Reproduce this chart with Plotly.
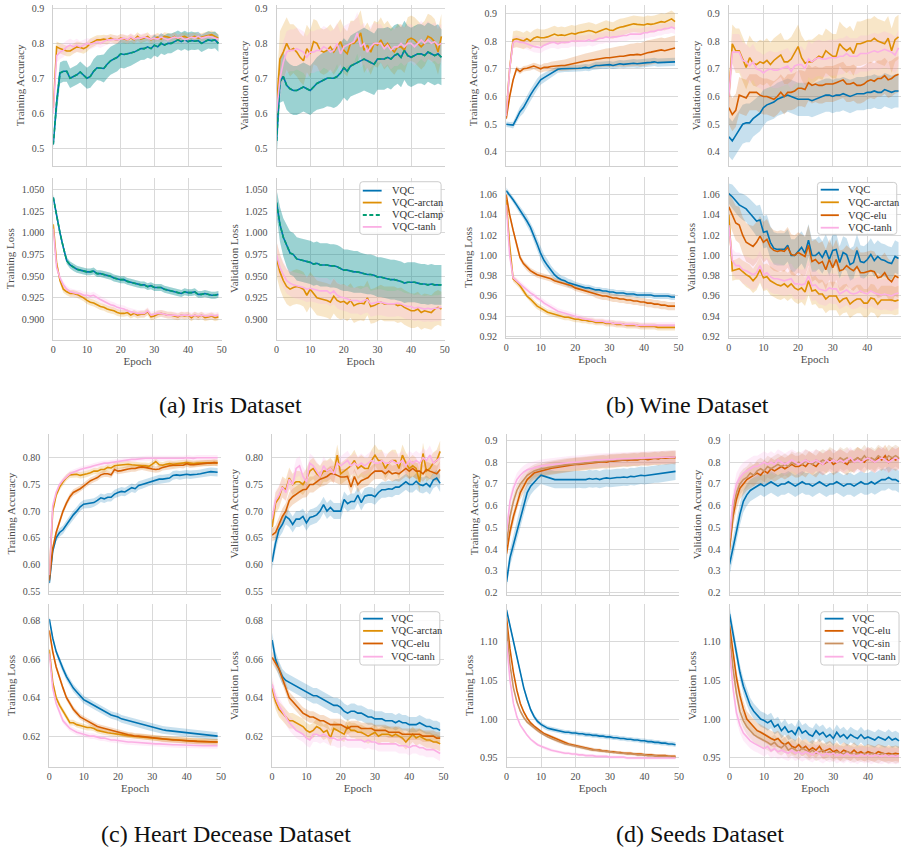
import plotly.graph_objects as go

EPOCH = list(range(50))

# ---------------- Iris ----------------
iris_tacc_vqc = [
    0.51, 0.63, 0.715, 0.72, 0.72, 0.70, 0.705, 0.71, 0.718, 0.71,
    0.70, 0.705, 0.72, 0.73, 0.73, 0.728, 0.74, 0.75, 0.755, 0.76,
    0.77, 0.768, 0.77, 0.772, 0.775, 0.78, 0.785, 0.785, 0.79, 0.785,
    0.795, 0.79, 0.80, 0.795, 0.80, 0.80, 0.805, 0.81, 0.805, 0.81,
    0.805, 0.808, 0.806, 0.808, 0.80, 0.805, 0.81, 0.808, 0.81, 0.80]
iris_tacc_vqc_sd = [
    0.01, 0.03, 0.03, 0.03, 0.03, 0.028, 0.028, 0.028, 0.03, 0.03,
    0.03, 0.032, 0.035, 0.035, 0.037, 0.04, 0.04, 0.04, 0.04, 0.04,
    0.04, 0.04, 0.038, 0.036, 0.035, 0.034, 0.033, 0.032, 0.031, 0.03,
    0.03, 0.03, 0.029, 0.028, 0.028, 0.028, 0.027, 0.027, 0.026, 0.026,
    0.026, 0.026, 0.025, 0.025, 0.025, 0.025, 0.025, 0.024, 0.024, 0.024]
iris_tacc_arctan = [
    0.615, 0.79, 0.785, 0.782, 0.778, 0.778, 0.785, 0.79, 0.788, 0.785,
    0.79, 0.80, 0.805, 0.81, 0.81, 0.812, 0.81, 0.815, 0.812, 0.81,
    0.815, 0.812, 0.81, 0.815, 0.81, 0.82, 0.812, 0.815, 0.82, 0.81,
    0.815, 0.818, 0.812, 0.82, 0.818, 0.815, 0.82, 0.812, 0.818, 0.82,
    0.815, 0.818, 0.82, 0.815, 0.818, 0.82, 0.822, 0.825, 0.82, 0.815]
iris_tacc_arctan_sd = [
    0.012, 0.015, 0.015, 0.015, 0.015, 0.015, 0.015, 0.015, 0.015, 0.015,
    0.014, 0.014, 0.014, 0.013, 0.013, 0.013, 0.013, 0.012, 0.012, 0.012,
    0.012, 0.012, 0.012, 0.012, 0.012, 0.012, 0.012, 0.012, 0.012, 0.012,
    0.012, 0.012, 0.012, 0.012, 0.012, 0.012, 0.012, 0.012, 0.012, 0.012,
    0.012, 0.012, 0.012, 0.012, 0.012, 0.012, 0.012, 0.012, 0.012, 0.012]
iris_tacc_tanh = [
    0.60, 0.765, 0.775, 0.78, 0.79, 0.795, 0.79, 0.795, 0.79, 0.795,
    0.80, 0.798, 0.80, 0.805, 0.80, 0.805, 0.81, 0.81, 0.812, 0.81,
    0.812, 0.815, 0.81, 0.818, 0.812, 0.815, 0.815, 0.818, 0.815, 0.812,
    0.815, 0.812, 0.818, 0.815, 0.81, 0.815, 0.818, 0.815, 0.818, 0.81,
    0.815, 0.818, 0.815, 0.82, 0.815, 0.818, 0.82, 0.818, 0.815, 0.812]
iris_tacc_tanh_sd = [
    0.012, 0.02, 0.02, 0.02, 0.018, 0.018, 0.018, 0.018, 0.016, 0.016,
    0.015, 0.015, 0.014, 0.014, 0.013, 0.013, 0.013, 0.012, 0.012, 0.012,
    0.012, 0.012, 0.012, 0.012, 0.012, 0.012, 0.012, 0.012, 0.012, 0.012,
    0.012, 0.012, 0.012, 0.012, 0.012, 0.012, 0.012, 0.012, 0.012, 0.012,
    0.012, 0.012, 0.012, 0.012, 0.012, 0.012, 0.012, 0.012, 0.012, 0.012]

iris_vacc_vqc = [
    0.52, 0.69, 0.705, 0.68, 0.67, 0.665, 0.665, 0.67, 0.675, 0.67,
    0.665, 0.675, 0.685, 0.69, 0.695, 0.70, 0.70, 0.70, 0.705, 0.715,
    0.73, 0.72, 0.735, 0.74, 0.745, 0.75, 0.755, 0.75, 0.745, 0.74,
    0.755, 0.755, 0.755, 0.76, 0.755, 0.765, 0.77, 0.76, 0.78, 0.765,
    0.76, 0.765, 0.77, 0.77, 0.765, 0.775, 0.77, 0.765, 0.77, 0.76]
iris_vacc_vqc_sd = [
    0.05, 0.06, 0.07, 0.07, 0.07, 0.07, 0.07, 0.07, 0.07, 0.07,
    0.07, 0.072, 0.075, 0.078, 0.08, 0.08, 0.082, 0.085, 0.085, 0.085,
    0.085, 0.085, 0.087, 0.088, 0.088, 0.09, 0.09, 0.09, 0.088, 0.088,
    0.088, 0.088, 0.088, 0.087, 0.087, 0.087, 0.086, 0.086, 0.085, 0.085,
    0.085, 0.085, 0.085, 0.085, 0.085, 0.085, 0.085, 0.085, 0.085, 0.08]
iris_vacc_arctan = [
    0.62, 0.755, 0.775, 0.80, 0.78, 0.785, 0.775, 0.76, 0.75, 0.785,
    0.77, 0.805, 0.80, 0.78, 0.775, 0.78, 0.79, 0.775, 0.79, 0.805,
    0.78, 0.77, 0.80, 0.80, 0.81, 0.83, 0.78, 0.795, 0.775, 0.80,
    0.795, 0.81, 0.79, 0.80, 0.785, 0.775, 0.79, 0.79, 0.78, 0.81,
    0.815, 0.81, 0.80, 0.79, 0.80, 0.82, 0.815, 0.805, 0.775, 0.82]
iris_vacc_arctan_sd = [
    0.05, 0.08, 0.08, 0.075, 0.075, 0.07, 0.07, 0.07, 0.07, 0.068,
    0.068, 0.065, 0.065, 0.065, 0.065, 0.065, 0.065, 0.065, 0.065, 0.065,
    0.065, 0.065, 0.065, 0.065, 0.065, 0.065, 0.065, 0.065, 0.065, 0.065,
    0.065, 0.065, 0.065, 0.065, 0.065, 0.065, 0.065, 0.065, 0.065, 0.065,
    0.065, 0.065, 0.065, 0.065, 0.065, 0.065, 0.065, 0.065, 0.065, 0.065]
iris_vacc_tanh = [
    0.60, 0.70, 0.745, 0.775, 0.78, 0.78, 0.785, 0.78, 0.775, 0.76,
    0.775, 0.775, 0.78, 0.78, 0.79, 0.785, 0.775, 0.78, 0.80, 0.77,
    0.79, 0.795, 0.80, 0.805, 0.83, 0.79, 0.80, 0.775, 0.79, 0.80,
    0.80, 0.80, 0.785, 0.795, 0.78, 0.79, 0.79, 0.80, 0.79, 0.80,
    0.80, 0.79, 0.80, 0.81, 0.80, 0.81, 0.80, 0.805, 0.795, 0.80]
iris_vacc_tanh_sd = [
    0.05, 0.06, 0.06, 0.06, 0.06, 0.06, 0.06, 0.06, 0.06, 0.06,
    0.06, 0.06, 0.06, 0.06, 0.06, 0.06, 0.06, 0.06, 0.06, 0.06,
    0.06, 0.06, 0.06, 0.06, 0.06, 0.06, 0.06, 0.06, 0.06, 0.06,
    0.055, 0.055, 0.055, 0.055, 0.055, 0.055, 0.055, 0.055, 0.055, 0.055,
    0.055, 0.055, 0.055, 0.055, 0.055, 0.055, 0.055, 0.055, 0.055, 0.055]

iris_tloss_vqc = [
    1.041, 1.02, 1.00, 0.983, 0.968, 0.963, 0.960, 0.958, 0.957, 0.956,
    0.955, 0.955, 0.956, 0.953, 0.953, 0.952, 0.951, 0.950, 0.948, 0.947,
    0.946, 0.946, 0.944, 0.943, 0.942, 0.941, 0.940, 0.940, 0.938, 0.939,
    0.937, 0.937, 0.937, 0.935, 0.934, 0.933, 0.932, 0.931, 0.930, 0.932,
    0.931, 0.931, 0.932, 0.929, 0.929, 0.930, 0.929, 0.928, 0.928, 0.929]
iris_tloss_vqc_sd = [
    0.004, 0.004, 0.004, 0.004, 0.004, 0.004, 0.004, 0.004, 0.004, 0.004,
    0.004, 0.004, 0.004, 0.004, 0.004, 0.004, 0.004, 0.004, 0.004, 0.004,
    0.004, 0.004, 0.004, 0.004, 0.004, 0.004, 0.004, 0.004, 0.004, 0.004,
    0.004, 0.004, 0.004, 0.004, 0.004, 0.004, 0.004, 0.004, 0.004, 0.004,
    0.004, 0.004, 0.004, 0.004, 0.004, 0.004, 0.004, 0.004, 0.004, 0.004]
iris_tloss_arctan = [
    1.01, 0.965, 0.945, 0.935, 0.932, 0.930, 0.930, 0.929, 0.927, 0.925,
    0.922, 0.920, 0.919, 0.917, 0.915, 0.914, 0.912, 0.911, 0.910, 0.908,
    0.907, 0.907, 0.908, 0.905, 0.907, 0.905, 0.906, 0.906, 0.909, 0.903,
    0.904, 0.906, 0.907, 0.906, 0.905, 0.905, 0.904, 0.903, 0.905, 0.904,
    0.905, 0.902, 0.905, 0.903, 0.905, 0.902, 0.903, 0.904, 0.902, 0.903]
iris_tloss_arctan_sd = [
    0.004, 0.004, 0.004, 0.004, 0.004, 0.004, 0.004, 0.004, 0.004, 0.004,
    0.004, 0.004, 0.004, 0.004, 0.004, 0.004, 0.004, 0.004, 0.004, 0.004,
    0.004, 0.004, 0.004, 0.004, 0.004, 0.004, 0.004, 0.004, 0.004, 0.004,
    0.004, 0.004, 0.004, 0.004, 0.004, 0.004, 0.004, 0.004, 0.004, 0.004,
    0.004, 0.004, 0.004, 0.004, 0.004, 0.004, 0.004, 0.004, 0.004, 0.004]
iris_tloss_tanh = [
    1.005, 0.96, 0.948, 0.94, 0.935, 0.932, 0.931, 0.930, 0.930, 0.928,
    0.928, 0.927, 0.928, 0.925, 0.923, 0.921, 0.919, 0.917, 0.916, 0.914,
    0.913, 0.912, 0.910, 0.909, 0.908, 0.907, 0.907, 0.907, 0.910, 0.905,
    0.906, 0.907, 0.907, 0.906, 0.905, 0.905, 0.905, 0.904, 0.905, 0.905,
    0.905, 0.904, 0.905, 0.904, 0.905, 0.904, 0.904, 0.905, 0.904, 0.905]
iris_tloss_tanh_sd = [
    0.004, 0.004, 0.004, 0.004, 0.004, 0.004, 0.004, 0.004, 0.004, 0.004,
    0.004, 0.004, 0.004, 0.004, 0.004, 0.004, 0.004, 0.004, 0.004, 0.004,
    0.004, 0.004, 0.004, 0.004, 0.004, 0.004, 0.004, 0.004, 0.004, 0.004,
    0.004, 0.004, 0.004, 0.004, 0.004, 0.004, 0.004, 0.004, 0.004, 0.004,
    0.004, 0.004, 0.004, 0.004, 0.004, 0.004, 0.004, 0.004, 0.004, 0.004]

iris_vloss_vqc = [
    1.035, 1.01, 0.995, 0.985, 0.977, 0.975, 0.970, 0.969, 0.968, 0.967,
    0.966, 0.964, 0.965, 0.963, 0.963, 0.963, 0.962, 0.962, 0.961, 0.959,
    0.957, 0.957, 0.956, 0.955, 0.955, 0.954, 0.953, 0.952, 0.952, 0.951,
    0.949, 0.949, 0.948, 0.947, 0.946, 0.946, 0.945, 0.944, 0.942, 0.943,
    0.943, 0.943, 0.942, 0.941, 0.941, 0.940, 0.941, 0.940, 0.940, 0.940]
iris_vloss_vqc_sd = [
    0.015, 0.02, 0.022, 0.024, 0.025, 0.025, 0.025, 0.025, 0.025, 0.025,
    0.025, 0.025, 0.025, 0.025, 0.025, 0.025, 0.025, 0.025, 0.025, 0.025,
    0.024, 0.024, 0.024, 0.024, 0.024, 0.023, 0.023, 0.023, 0.023, 0.023,
    0.023, 0.023, 0.023, 0.023, 0.023, 0.023, 0.023, 0.023, 0.023, 0.023,
    0.023, 0.023, 0.023, 0.023, 0.023, 0.023, 0.023, 0.023, 0.023, 0.023]
iris_vloss_arctan = [
    0.97, 0.955, 0.945, 0.938, 0.935, 0.937, 0.938, 0.937, 0.935, 0.928,
    0.935, 0.930, 0.925, 0.924, 0.923, 0.922, 0.920, 0.927, 0.922, 0.920,
    0.921, 0.918, 0.922, 0.916, 0.918, 0.919, 0.918, 0.925, 0.915, 0.916,
    0.918, 0.920, 0.918, 0.918, 0.918, 0.918, 0.916, 0.917, 0.914, 0.912,
    0.910, 0.910, 0.912, 0.908, 0.910, 0.909, 0.908, 0.912, 0.914, 0.912]
iris_vloss_arctan_sd = [
    0.02, 0.02, 0.02, 0.02, 0.02, 0.02, 0.02, 0.02, 0.02, 0.02,
    0.02, 0.02, 0.02, 0.02, 0.02, 0.02, 0.02, 0.02, 0.02, 0.02,
    0.02, 0.02, 0.02, 0.02, 0.02, 0.02, 0.02, 0.02, 0.02, 0.02,
    0.02, 0.02, 0.02, 0.02, 0.02, 0.02, 0.02, 0.02, 0.02, 0.02,
    0.02, 0.02, 0.02, 0.02, 0.02, 0.02, 0.02, 0.02, 0.02, 0.02]
iris_vloss_tanh = [
    0.975, 0.96, 0.952, 0.945, 0.942, 0.940, 0.939, 0.938, 0.937, 0.935,
    0.936, 0.935, 0.934, 0.933, 0.933, 0.933, 0.930, 0.933, 0.928, 0.926,
    0.925, 0.924, 0.922, 0.922, 0.922, 0.920, 0.922, 0.923, 0.918, 0.919,
    0.920, 0.920, 0.919, 0.918, 0.918, 0.918, 0.919, 0.918, 0.916, 0.915,
    0.915, 0.913, 0.914, 0.913, 0.912, 0.913, 0.912, 0.913, 0.913, 0.914]
iris_vloss_tanh_sd = [
    0.015, 0.015, 0.015, 0.015, 0.015, 0.015, 0.015, 0.015, 0.015, 0.015,
    0.015, 0.015, 0.015, 0.015, 0.015, 0.015, 0.015, 0.015, 0.015, 0.015,
    0.015, 0.015, 0.015, 0.015, 0.015, 0.015, 0.015, 0.015, 0.015, 0.015,
    0.015, 0.015, 0.015, 0.015, 0.015, 0.015, 0.015, 0.015, 0.015, 0.015,
    0.015, 0.015, 0.015, 0.015, 0.015, 0.015, 0.015, 0.015, 0.015, 0.015]

# ---------------- Wine ----------------
wine_tacc_vqc = [
    0.50, 0.498, 0.497, 0.52, 0.545, 0.56, 0.585, 0.605, 0.625, 0.645,
    0.66, 0.668, 0.675, 0.682, 0.69, 0.698, 0.70, 0.70, 0.70, 0.70,
    0.70, 0.702, 0.703, 0.705, 0.703, 0.708, 0.712, 0.712, 0.713, 0.712,
    0.715, 0.712, 0.715, 0.718, 0.716, 0.718, 0.72, 0.72, 0.718, 0.72,
    0.722, 0.722, 0.723, 0.725, 0.722, 0.723, 0.724, 0.725, 0.725, 0.725]
wine_tacc_vqc_sd = [
    0.01, 0.01, 0.012, 0.015, 0.018, 0.02, 0.02, 0.02, 0.02, 0.02,
    0.018, 0.016, 0.015, 0.014, 0.013, 0.012, 0.012, 0.012, 0.012, 0.012,
    0.012, 0.012, 0.012, 0.012, 0.012, 0.012, 0.013, 0.013, 0.013, 0.013,
    0.013, 0.013, 0.014, 0.014, 0.014, 0.014, 0.015, 0.015, 0.015, 0.015,
    0.015, 0.015, 0.015, 0.015, 0.015, 0.015, 0.015, 0.015, 0.015, 0.015]
wine_tacc_arctan = [
    0.54, 0.70, 0.805, 0.808, 0.805, 0.80, 0.808, 0.80, 0.81, 0.815,
    0.812, 0.812, 0.815, 0.82, 0.825, 0.82, 0.822, 0.82, 0.825, 0.828,
    0.825, 0.83, 0.832, 0.835, 0.838, 0.835, 0.83, 0.835, 0.84, 0.845,
    0.84, 0.838, 0.845, 0.85, 0.852, 0.855, 0.86, 0.862, 0.86, 0.86,
    0.858, 0.862, 0.86, 0.862, 0.865, 0.87, 0.868, 0.875, 0.88, 0.87]
wine_tacc_arctan_sd = [
    0.02, 0.03, 0.03, 0.03, 0.03, 0.03, 0.03, 0.03, 0.03, 0.03,
    0.03, 0.03, 0.03, 0.03, 0.03, 0.03, 0.03, 0.03, 0.03, 0.03,
    0.03, 0.03, 0.03, 0.03, 0.03, 0.03, 0.03, 0.03, 0.03, 0.03,
    0.03, 0.03, 0.03, 0.03, 0.03, 0.03, 0.03, 0.03, 0.03, 0.03,
    0.03, 0.03, 0.03, 0.03, 0.03, 0.03, 0.03, 0.03, 0.03, 0.03]
wine_tacc_elu = [
    0.52, 0.60, 0.66, 0.70, 0.69, 0.70, 0.702, 0.705, 0.71, 0.705,
    0.70, 0.705, 0.705, 0.708, 0.71, 0.712, 0.712, 0.712, 0.715, 0.718,
    0.72, 0.722, 0.725, 0.728, 0.73, 0.732, 0.735, 0.735, 0.738, 0.74,
    0.74, 0.742, 0.743, 0.745, 0.745, 0.748, 0.75, 0.75, 0.752, 0.75,
    0.755, 0.758, 0.76, 0.762, 0.765, 0.768, 0.765, 0.768, 0.77, 0.775]
wine_tacc_elu_sd = [
    0.01, 0.01, 0.01, 0.01, 0.01, 0.01, 0.01, 0.011, 0.012, 0.013,
    0.014, 0.015, 0.016, 0.017, 0.018, 0.019, 0.02, 0.021, 0.022, 0.023,
    0.024, 0.025, 0.026, 0.027, 0.028, 0.029, 0.03, 0.031, 0.032, 0.033,
    0.034, 0.035, 0.036, 0.037, 0.038, 0.039, 0.04, 0.041, 0.042, 0.043,
    0.044, 0.045, 0.045, 0.045, 0.045, 0.045, 0.045, 0.045, 0.045, 0.045]
wine_tacc_tanh = [
    0.53, 0.70, 0.795, 0.80, 0.795, 0.795, 0.79, 0.785, 0.78, 0.778,
    0.776, 0.785, 0.79, 0.795, 0.795, 0.79, 0.795, 0.795, 0.795, 0.80,
    0.80, 0.798, 0.80, 0.80, 0.805, 0.80, 0.805, 0.81, 0.81, 0.815,
    0.812, 0.815, 0.815, 0.818, 0.82, 0.82, 0.825, 0.825, 0.825, 0.825,
    0.83, 0.83, 0.835, 0.835, 0.84, 0.84, 0.845, 0.845, 0.85, 0.845]
wine_tacc_tanh_sd = [
    0.015, 0.02, 0.02, 0.02, 0.02, 0.02, 0.02, 0.02, 0.02, 0.02,
    0.02, 0.02, 0.02, 0.02, 0.02, 0.02, 0.02, 0.02, 0.02, 0.02,
    0.02, 0.02, 0.02, 0.02, 0.02, 0.02, 0.02, 0.02, 0.02, 0.02,
    0.02, 0.02, 0.02, 0.02, 0.02, 0.02, 0.02, 0.02, 0.02, 0.02,
    0.02, 0.02, 0.02, 0.02, 0.02, 0.02, 0.02, 0.02, 0.02, 0.02]

wine_vacc_vqc = [
    0.455, 0.44, 0.46, 0.48, 0.50, 0.505, 0.505, 0.52, 0.53, 0.54,
    0.56, 0.57, 0.575, 0.58, 0.59, 0.595, 0.60, 0.605, 0.60, 0.595,
    0.59, 0.59, 0.59, 0.59, 0.585, 0.59, 0.595, 0.60, 0.605, 0.605,
    0.60, 0.605, 0.605, 0.61, 0.605, 0.60, 0.605, 0.61, 0.61, 0.61,
    0.615, 0.615, 0.62, 0.615, 0.615, 0.625, 0.62, 0.615, 0.62, 0.62]
wine_vacc_vqc_sd = [
    0.07, 0.07, 0.07, 0.07, 0.07, 0.07, 0.07, 0.065, 0.065, 0.065,
    0.065, 0.06, 0.06, 0.06, 0.06, 0.06, 0.06, 0.06, 0.06, 0.06,
    0.06, 0.06, 0.06, 0.06, 0.06, 0.06, 0.06, 0.06, 0.06, 0.06,
    0.06, 0.06, 0.06, 0.06, 0.06, 0.06, 0.06, 0.06, 0.06, 0.06,
    0.06, 0.06, 0.06, 0.06, 0.06, 0.06, 0.06, 0.06, 0.06, 0.06]
wine_vacc_arctan = [
    0.60, 0.79, 0.765, 0.765, 0.735, 0.705, 0.74, 0.72, 0.715, 0.725,
    0.72, 0.73, 0.715, 0.73, 0.74, 0.75, 0.725, 0.725, 0.735, 0.755,
    0.78, 0.74, 0.72, 0.725, 0.725, 0.735, 0.745, 0.74, 0.765, 0.755,
    0.745, 0.745, 0.79, 0.775, 0.765, 0.775, 0.755, 0.79, 0.79, 0.795,
    0.80, 0.80, 0.81, 0.80, 0.795, 0.79, 0.81, 0.765, 0.805, 0.815]
wine_vacc_arctan_sd = [
    0.06, 0.07, 0.08, 0.08, 0.08, 0.08, 0.08, 0.08, 0.08, 0.08,
    0.08, 0.08, 0.08, 0.08, 0.08, 0.08, 0.08, 0.08, 0.08, 0.08,
    0.08, 0.08, 0.08, 0.08, 0.08, 0.08, 0.08, 0.08, 0.08, 0.08,
    0.08, 0.08, 0.08, 0.08, 0.08, 0.08, 0.08, 0.08, 0.08, 0.08,
    0.08, 0.08, 0.08, 0.08, 0.08, 0.08, 0.08, 0.08, 0.08, 0.08]
wine_vacc_elu = [
    0.56, 0.535, 0.55, 0.605, 0.60, 0.595, 0.615, 0.615, 0.615, 0.605,
    0.60, 0.60, 0.595, 0.59, 0.60, 0.615, 0.60, 0.615, 0.615, 0.62,
    0.63, 0.63, 0.625, 0.65, 0.64, 0.645, 0.64, 0.64, 0.645, 0.645,
    0.645, 0.65, 0.655, 0.66, 0.645, 0.645, 0.65, 0.64, 0.64, 0.645,
    0.655, 0.66, 0.655, 0.665, 0.665, 0.675, 0.66, 0.665, 0.675, 0.68]
wine_vacc_elu_sd = [
    0.06, 0.06, 0.06, 0.065, 0.065, 0.065, 0.065, 0.065, 0.065, 0.065,
    0.065, 0.065, 0.065, 0.065, 0.065, 0.065, 0.065, 0.065, 0.065, 0.065,
    0.065, 0.065, 0.065, 0.065, 0.065, 0.065, 0.065, 0.065, 0.065, 0.065,
    0.065, 0.065, 0.065, 0.065, 0.065, 0.065, 0.065, 0.065, 0.065, 0.065,
    0.065, 0.065, 0.065, 0.065, 0.065, 0.065, 0.065, 0.065, 0.065, 0.065]
wine_vacc_tanh = [
    0.60, 0.76, 0.76, 0.76, 0.73, 0.725, 0.71, 0.725, 0.70, 0.695,
    0.685, 0.695, 0.70, 0.695, 0.695, 0.70, 0.705, 0.71, 0.69, 0.71,
    0.715, 0.715, 0.70, 0.735, 0.725, 0.735, 0.74, 0.735, 0.735, 0.74,
    0.74, 0.74, 0.745, 0.745, 0.755, 0.745, 0.745, 0.745, 0.755, 0.755,
    0.755, 0.76, 0.765, 0.76, 0.765, 0.77, 0.765, 0.76, 0.75, 0.775]
wine_vacc_tanh_sd = [
    0.06, 0.065, 0.065, 0.065, 0.065, 0.065, 0.065, 0.065, 0.065, 0.065,
    0.065, 0.065, 0.065, 0.065, 0.065, 0.065, 0.065, 0.065, 0.065, 0.065,
    0.065, 0.065, 0.065, 0.065, 0.065, 0.065, 0.065, 0.065, 0.065, 0.065,
    0.065, 0.065, 0.065, 0.065, 0.065, 0.065, 0.065, 0.065, 0.065, 0.065,
    0.065, 0.065, 0.065, 0.065, 0.065, 0.065, 0.065, 0.065, 0.065, 0.065]

wine_tloss_vqc = [
    1.064, 1.060, 1.055, 1.050, 1.045, 1.040, 1.034, 1.028, 1.020, 1.011,
    1.002, 0.995, 0.990, 0.985, 0.981, 0.978, 0.976, 0.975, 0.973, 0.972,
    0.971, 0.970, 0.969, 0.968, 0.968, 0.967, 0.966, 0.966, 0.965, 0.965,
    0.964, 0.964, 0.963, 0.963, 0.963, 0.962, 0.962, 0.962, 0.961, 0.961,
    0.961, 0.961, 0.961, 0.960, 0.960, 0.960, 0.960, 0.960, 0.959, 0.959]
wine_tloss_vqc_sd = [
    0.003, 0.003, 0.003, 0.003, 0.004, 0.004, 0.005, 0.005, 0.006, 0.006,
    0.006, 0.006, 0.006, 0.005, 0.005, 0.005, 0.004, 0.004, 0.004, 0.004,
    0.003, 0.003, 0.003, 0.003, 0.003, 0.003, 0.003, 0.003, 0.003, 0.003,
    0.003, 0.003, 0.003, 0.003, 0.003, 0.003, 0.003, 0.003, 0.003, 0.003,
    0.003, 0.003, 0.003, 0.003, 0.003, 0.003, 0.003, 0.003, 0.003, 0.003]
wine_tloss_arctan = [
    1.055, 1.01, 0.977, 0.974, 0.970, 0.965, 0.960, 0.957, 0.953, 0.950,
    0.948, 0.946, 0.944, 0.943, 0.942, 0.941, 0.940, 0.939, 0.939, 0.938,
    0.937, 0.937, 0.936, 0.936, 0.935, 0.935, 0.934, 0.934, 0.934, 0.933,
    0.933, 0.933, 0.932, 0.932, 0.932, 0.931, 0.931, 0.931, 0.931, 0.930,
    0.930, 0.930, 0.930, 0.930, 0.929, 0.929, 0.929, 0.929, 0.929, 0.929]
wine_tloss_arctan_sd = [
    0.003, 0.003, 0.003, 0.003, 0.003, 0.003, 0.003, 0.003, 0.003, 0.003,
    0.003, 0.003, 0.003, 0.003, 0.003, 0.003, 0.003, 0.003, 0.003, 0.003,
    0.003, 0.003, 0.003, 0.003, 0.003, 0.003, 0.003, 0.003, 0.003, 0.003,
    0.003, 0.003, 0.003, 0.003, 0.003, 0.003, 0.003, 0.003, 0.003, 0.003,
    0.003, 0.003, 0.003, 0.003, 0.003, 0.003, 0.003, 0.003, 0.003, 0.003]
wine_tloss_elu = [
    1.06, 1.04, 1.025, 1.01, 0.998, 0.992, 0.988, 0.985, 0.983, 0.981,
    0.980, 0.979, 0.978, 0.977, 0.975, 0.974, 0.973, 0.972, 0.971, 0.970,
    0.968, 0.967, 0.966, 0.965, 0.964, 0.963, 0.962, 0.961, 0.960, 0.960,
    0.959, 0.958, 0.958, 0.957, 0.957, 0.956, 0.956, 0.955, 0.955, 0.954,
    0.954, 0.953, 0.953, 0.952, 0.952, 0.951, 0.951, 0.950, 0.950, 0.950]
wine_tloss_elu_sd = [
    0.003, 0.003, 0.003, 0.003, 0.003, 0.003, 0.003, 0.003, 0.003, 0.003,
    0.003, 0.003, 0.003, 0.003, 0.003, 0.003, 0.003, 0.003, 0.003, 0.003,
    0.003, 0.003, 0.003, 0.003, 0.003, 0.003, 0.004, 0.004, 0.004, 0.004,
    0.004, 0.004, 0.004, 0.004, 0.004, 0.004, 0.004, 0.004, 0.004, 0.004,
    0.004, 0.004, 0.004, 0.004, 0.004, 0.004, 0.004, 0.004, 0.004, 0.004]
wine_tloss_tanh = [
    1.05, 1.00, 0.978, 0.975, 0.972, 0.969, 0.966, 0.963, 0.961, 0.958,
    0.956, 0.953, 0.951, 0.949, 0.947, 0.945, 0.944, 0.943, 0.942, 0.941,
    0.940, 0.939, 0.938, 0.937, 0.937, 0.936, 0.935, 0.935, 0.935, 0.934,
    0.934, 0.933, 0.933, 0.933, 0.932, 0.932, 0.932, 0.932, 0.931, 0.931,
    0.931, 0.931, 0.931, 0.931, 0.931, 0.931, 0.931, 0.931, 0.931, 0.931]
wine_tloss_tanh_sd = [
    0.003, 0.003, 0.003, 0.003, 0.003, 0.003, 0.003, 0.003, 0.003, 0.003,
    0.003, 0.003, 0.003, 0.003, 0.003, 0.003, 0.003, 0.003, 0.003, 0.003,
    0.003, 0.003, 0.003, 0.003, 0.003, 0.003, 0.003, 0.003, 0.003, 0.003,
    0.003, 0.003, 0.003, 0.003, 0.003, 0.003, 0.003, 0.003, 0.003, 0.003,
    0.003, 0.003, 0.003, 0.003, 0.003, 0.003, 0.003, 0.003, 0.003, 0.003]

wine_vloss_vqc = [
    1.061, 1.058, 1.054, 1.050, 1.048, 1.046, 1.042, 1.038, 1.034, 1.035,
    1.023, 1.024, 1.013, 1.007, 1.006, 1.006, 1.006, 1.010, 1.000, 1.000,
    1.004, 1.008, 1.002, 1.015, 1.000, 1.000, 1.003, 0.998, 1.005, 0.996,
    1.005, 1.006, 0.993, 1.003, 1.001, 0.991, 0.993, 1.005, 0.994, 0.993,
    0.996, 1.001, 0.995, 0.999, 0.996, 0.995, 0.993, 0.992, 0.999, 0.997]
wine_vloss_vqc_sd = [
    0.01, 0.012, 0.012, 0.012, 0.013, 0.013, 0.014, 0.014, 0.015, 0.015,
    0.016, 0.016, 0.016, 0.016, 0.016, 0.016, 0.016, 0.016, 0.016, 0.016,
    0.016, 0.016, 0.016, 0.016, 0.016, 0.016, 0.016, 0.016, 0.016, 0.016,
    0.016, 0.016, 0.016, 0.016, 0.016, 0.016, 0.016, 0.016, 0.016, 0.016,
    0.016, 0.016, 0.016, 0.016, 0.016, 0.016, 0.016, 0.016, 0.016, 0.016]
wine_vloss_arctan = [
    1.04, 0.985, 0.986, 0.987, 0.984, 0.981, 0.979, 0.975, 0.979, 0.986,
    0.978, 0.979, 0.975, 0.973, 0.971, 0.970, 0.972, 0.969, 0.972, 0.968,
    0.966, 0.968, 0.964, 0.975, 0.965, 0.966, 0.962, 0.962, 0.957, 0.960,
    0.960, 0.960, 0.954, 0.957, 0.958, 0.952, 0.955, 0.957, 0.957, 0.953,
    0.953, 0.958, 0.957, 0.952, 0.956, 0.956, 0.956, 0.956, 0.955, 0.956]
wine_vloss_arctan_sd = [
    0.01, 0.01, 0.01, 0.011, 0.011, 0.012, 0.012, 0.012, 0.013, 0.013,
    0.013, 0.013, 0.014, 0.014, 0.014, 0.014, 0.014, 0.014, 0.014, 0.014,
    0.014, 0.014, 0.014, 0.014, 0.014, 0.014, 0.014, 0.014, 0.014, 0.014,
    0.014, 0.014, 0.014, 0.014, 0.014, 0.014, 0.014, 0.014, 0.014, 0.014,
    0.014, 0.014, 0.014, 0.014, 0.014, 0.014, 0.014, 0.014, 0.014, 0.014]
wine_vloss_elu = [
    1.048, 1.040, 1.032, 1.030, 1.020, 1.013, 1.011, 1.009, 1.013, 1.019,
    1.013, 1.016, 1.008, 1.005, 1.004, 1.005, 1.004, 1.008, 1.001, 1.000,
    1.003, 1.001, 0.999, 1.010, 0.994, 0.996, 0.992, 0.994, 0.986, 0.996,
    0.988, 0.996, 0.985, 0.986, 0.990, 0.987, 0.985, 0.989, 0.983, 0.983,
    0.984, 0.985, 0.984, 0.978, 0.979, 0.983, 0.977, 0.974, 0.980, 0.978]
wine_vloss_elu_sd = [
    0.015, 0.016, 0.017, 0.018, 0.018, 0.019, 0.019, 0.02, 0.02, 0.02,
    0.02, 0.02, 0.02, 0.02, 0.02, 0.02, 0.02, 0.02, 0.02, 0.02,
    0.02, 0.02, 0.02, 0.02, 0.02, 0.02, 0.02, 0.02, 0.02, 0.02,
    0.02, 0.02, 0.02, 0.02, 0.02, 0.02, 0.02, 0.02, 0.02, 0.02,
    0.02, 0.02, 0.02, 0.02, 0.02, 0.02, 0.02, 0.02, 0.02, 0.02]
wine_vloss_tanh = [
    1.03, 0.995, 0.990, 0.990, 0.986, 0.985, 0.983, 0.981, 0.983, 0.990,
    0.981, 0.983, 0.979, 0.977, 0.977, 0.976, 0.975, 0.976, 0.977, 0.972,
    0.972, 0.971, 0.972, 0.980, 0.970, 0.971, 0.967, 0.966, 0.965, 0.968,
    0.967, 0.967, 0.962, 0.964, 0.966, 0.963, 0.962, 0.963, 0.965, 0.963,
    0.962, 0.965, 0.963, 0.962, 0.961, 0.962, 0.961, 0.960, 0.962, 0.963]
wine_vloss_tanh_sd = [
    0.012, 0.012, 0.013, 0.013, 0.014, 0.014, 0.015, 0.015, 0.015, 0.015,
    0.015, 0.015, 0.015, 0.015, 0.015, 0.015, 0.015, 0.015, 0.015, 0.015,
    0.015, 0.015, 0.015, 0.015, 0.015, 0.015, 0.015, 0.015, 0.015, 0.015,
    0.015, 0.015, 0.015, 0.015, 0.015, 0.015, 0.015, 0.015, 0.015, 0.015,
    0.015, 0.015, 0.015, 0.015, 0.015, 0.015, 0.015, 0.015, 0.015, 0.015]

# ---------------- Heart ----------------
heart_tacc_vqc = [
    0.565, 0.625, 0.65, 0.66, 0.665, 0.675, 0.685, 0.693, 0.70, 0.708,
    0.713, 0.714, 0.714, 0.716, 0.72, 0.725, 0.723, 0.726, 0.726, 0.732,
    0.735, 0.737, 0.736, 0.74, 0.744, 0.742, 0.748, 0.750, 0.752, 0.755,
    0.757, 0.758, 0.760, 0.760, 0.761, 0.762, 0.767, 0.768, 0.767, 0.768,
    0.769, 0.768, 0.768, 0.769, 0.770, 0.772, 0.773, 0.774, 0.774, 0.773]
heart_tacc_vqc_sd = [
    0.005, 0.006, 0.007, 0.008, 0.008, 0.008, 0.008, 0.008, 0.008, 0.008,
    0.008, 0.008, 0.008, 0.008, 0.008, 0.008, 0.008, 0.008, 0.008, 0.008,
    0.008, 0.008, 0.008, 0.008, 0.008, 0.008, 0.008, 0.008, 0.008, 0.008,
    0.008, 0.008, 0.008, 0.008, 0.008, 0.008, 0.008, 0.008, 0.008, 0.008,
    0.008, 0.008, 0.008, 0.008, 0.008, 0.008, 0.008, 0.008, 0.008, 0.008]
heart_tacc_arctan = [
    0.58, 0.70, 0.73, 0.745, 0.755, 0.763, 0.768, 0.768, 0.769, 0.767,
    0.768, 0.770, 0.772, 0.775, 0.775, 0.778, 0.778, 0.782, 0.781, 0.785,
    0.786, 0.787, 0.787, 0.788, 0.787, 0.786, 0.786, 0.785, 0.785, 0.784,
    0.788, 0.793, 0.787, 0.786, 0.788, 0.789, 0.788, 0.789, 0.790, 0.791,
    0.791, 0.790, 0.789, 0.790, 0.790, 0.790, 0.790, 0.790, 0.791, 0.791]
heart_tacc_arctan_sd = [
    0.006, 0.006, 0.006, 0.006, 0.006, 0.006, 0.006, 0.006, 0.006, 0.006,
    0.006, 0.006, 0.006, 0.006, 0.006, 0.006, 0.006, 0.006, 0.006, 0.006,
    0.006, 0.006, 0.006, 0.006, 0.006, 0.006, 0.006, 0.006, 0.006, 0.006,
    0.006, 0.006, 0.006, 0.006, 0.006, 0.006, 0.006, 0.006, 0.006, 0.006,
    0.006, 0.006, 0.006, 0.006, 0.006, 0.006, 0.006, 0.006, 0.006, 0.006]
heart_tacc_elu = [
    0.57, 0.63, 0.66, 0.68, 0.70, 0.715, 0.727, 0.735, 0.738, 0.742,
    0.747, 0.752, 0.757, 0.76, 0.763, 0.768, 0.77, 0.77, 0.768, 0.778,
    0.775, 0.776, 0.778, 0.779, 0.780, 0.780, 0.782, 0.783, 0.782, 0.780,
    0.779, 0.778, 0.779, 0.782, 0.784, 0.785, 0.786, 0.786, 0.787, 0.786,
    0.789, 0.787, 0.787, 0.788, 0.789, 0.790, 0.790, 0.790, 0.791, 0.790]
heart_tacc_elu_sd = [
    0.006, 0.006, 0.006, 0.006, 0.006, 0.006, 0.006, 0.006, 0.006, 0.006,
    0.006, 0.006, 0.006, 0.006, 0.006, 0.006, 0.006, 0.006, 0.006, 0.006,
    0.006, 0.006, 0.006, 0.006, 0.006, 0.006, 0.006, 0.006, 0.006, 0.006,
    0.006, 0.006, 0.006, 0.006, 0.006, 0.006, 0.006, 0.006, 0.006, 0.006,
    0.006, 0.006, 0.006, 0.006, 0.006, 0.006, 0.006, 0.006, 0.006, 0.006]
heart_tacc_tanh = [
    0.58, 0.71, 0.735, 0.75, 0.758, 0.765, 0.77, 0.773, 0.776, 0.778,
    0.780, 0.781, 0.783, 0.785, 0.787, 0.788, 0.790, 0.790, 0.791, 0.792,
    0.794, 0.795, 0.796, 0.797, 0.797, 0.797, 0.798, 0.798, 0.799, 0.799,
    0.799, 0.799, 0.799, 0.799, 0.799, 0.799, 0.798, 0.799, 0.799, 0.799,
    0.800, 0.799, 0.799, 0.800, 0.800, 0.800, 0.800, 0.800, 0.800, 0.800]
heart_tacc_tanh_sd = [
    0.005, 0.005, 0.005, 0.005, 0.005, 0.005, 0.005, 0.005, 0.005, 0.005,
    0.005, 0.005, 0.005, 0.005, 0.005, 0.005, 0.005, 0.005, 0.005, 0.005,
    0.005, 0.005, 0.005, 0.005, 0.005, 0.005, 0.005, 0.005, 0.005, 0.005,
    0.005, 0.005, 0.005, 0.005, 0.005, 0.005, 0.005, 0.005, 0.005, 0.005,
    0.005, 0.005, 0.005, 0.005, 0.005, 0.005, 0.005, 0.005, 0.005, 0.005]

heart_vacc_vqc = [
    0.605, 0.64, 0.665, 0.675, 0.69, 0.685, 0.675, 0.685, 0.685, 0.69,
    0.678, 0.688, 0.69, 0.693, 0.70, 0.712, 0.70, 0.707, 0.70, 0.70,
    0.70, 0.722, 0.714, 0.718, 0.718, 0.73, 0.716, 0.728, 0.73, 0.73,
    0.727, 0.735, 0.74, 0.74, 0.742, 0.741, 0.745, 0.745, 0.75, 0.755,
    0.75, 0.75, 0.756, 0.75, 0.748, 0.752, 0.746, 0.758, 0.762, 0.752]
heart_vacc_vqc_sd = [
    0.015, 0.015, 0.015, 0.015, 0.015, 0.015, 0.015, 0.015, 0.015, 0.015,
    0.015, 0.015, 0.015, 0.015, 0.015, 0.015, 0.015, 0.015, 0.015, 0.015,
    0.015, 0.015, 0.015, 0.015, 0.015, 0.015, 0.015, 0.015, 0.015, 0.015,
    0.015, 0.015, 0.015, 0.015, 0.015, 0.015, 0.015, 0.015, 0.015, 0.015,
    0.015, 0.015, 0.015, 0.015, 0.015, 0.015, 0.015, 0.015, 0.015, 0.016]
heart_vacc_arctan = [
    0.67, 0.715, 0.725, 0.745, 0.74, 0.762, 0.75, 0.755, 0.755, 0.75,
    0.76, 0.775, 0.78, 0.77, 0.765, 0.775, 0.775, 0.78, 0.772, 0.805,
    0.77, 0.775, 0.78, 0.785, 0.795, 0.78, 0.785, 0.78, 0.78, 0.795,
    0.805, 0.795, 0.795, 0.78, 0.79, 0.795, 0.795, 0.78, 0.805, 0.79,
    0.78, 0.785, 0.78, 0.755, 0.808, 0.775, 0.78, 0.79, 0.795, 0.812]
heart_vacc_arctan_sd = [
    0.02, 0.02, 0.02, 0.02, 0.02, 0.02, 0.02, 0.02, 0.02, 0.02,
    0.02, 0.02, 0.02, 0.02, 0.02, 0.02, 0.02, 0.02, 0.02, 0.02,
    0.02, 0.02, 0.02, 0.02, 0.02, 0.02, 0.02, 0.02, 0.02, 0.02,
    0.02, 0.02, 0.02, 0.02, 0.02, 0.02, 0.02, 0.02, 0.02, 0.02,
    0.02, 0.02, 0.02, 0.02, 0.02, 0.02, 0.02, 0.02, 0.02, 0.02]
heart_vacc_elu = [
    0.655, 0.66, 0.675, 0.69, 0.70, 0.72, 0.727, 0.732, 0.736, 0.74,
    0.741, 0.75, 0.75, 0.755, 0.76, 0.762, 0.765, 0.77, 0.77, 0.767,
    0.764, 0.764, 0.765, 0.745, 0.765, 0.75, 0.757, 0.76, 0.763, 0.77,
    0.775, 0.775, 0.775, 0.77, 0.775, 0.77, 0.772, 0.77, 0.775, 0.78,
    0.775, 0.78, 0.775, 0.775, 0.77, 0.778, 0.775, 0.772, 0.77, 0.778]
heart_vacc_elu_sd = [
    0.012, 0.013, 0.014, 0.015, 0.015, 0.015, 0.015, 0.015, 0.015, 0.015,
    0.015, 0.015, 0.015, 0.015, 0.015, 0.015, 0.015, 0.015, 0.015, 0.015,
    0.015, 0.015, 0.015, 0.015, 0.015, 0.015, 0.015, 0.015, 0.015, 0.015,
    0.015, 0.015, 0.015, 0.015, 0.015, 0.015, 0.015, 0.015, 0.015, 0.015,
    0.015, 0.015, 0.015, 0.015, 0.015, 0.015, 0.015, 0.015, 0.015, 0.015]
heart_vacc_tanh = [
    0.685, 0.72, 0.73, 0.745, 0.735, 0.76, 0.75, 0.78, 0.785, 0.765,
    0.755, 0.79, 0.785, 0.775, 0.765, 0.785, 0.775, 0.78, 0.77, 0.79,
    0.785, 0.79, 0.795, 0.785, 0.79, 0.785, 0.79, 0.785, 0.79, 0.795,
    0.79, 0.79, 0.795, 0.79, 0.79, 0.795, 0.79, 0.79, 0.795, 0.785,
    0.795, 0.79, 0.795, 0.79, 0.80, 0.795, 0.805, 0.79, 0.795, 0.80]
heart_vacc_tanh_sd = [
    0.018, 0.018, 0.018, 0.018, 0.018, 0.018, 0.018, 0.018, 0.018, 0.018,
    0.018, 0.018, 0.018, 0.018, 0.018, 0.018, 0.018, 0.018, 0.018, 0.018,
    0.018, 0.018, 0.018, 0.018, 0.018, 0.018, 0.018, 0.018, 0.018, 0.018,
    0.018, 0.018, 0.018, 0.018, 0.018, 0.018, 0.018, 0.018, 0.018, 0.018,
    0.018, 0.018, 0.018, 0.018, 0.018, 0.018, 0.018, 0.018, 0.018, 0.018]

heart_tloss_vqc = [
    0.681, 0.671, 0.664, 0.659, 0.655, 0.651, 0.648, 0.645, 0.643, 0.641,
    0.639, 0.638, 0.637, 0.636, 0.635, 0.634, 0.633, 0.632, 0.631, 0.6305,
    0.630, 0.629, 0.6285, 0.628, 0.6275, 0.627, 0.6265, 0.626, 0.6255, 0.625,
    0.6245, 0.624, 0.6237, 0.6233, 0.623, 0.6228, 0.6225, 0.6223, 0.622, 0.6218,
    0.6216, 0.6214, 0.6212, 0.621, 0.6208, 0.6206, 0.6204, 0.6202, 0.620, 0.620]
heart_tloss_vqc_sd = [
    0.0015, 0.0015, 0.0015, 0.0018, 0.002, 0.002, 0.002, 0.002, 0.002, 0.002,
    0.002, 0.002, 0.002, 0.002, 0.002, 0.002, 0.002, 0.002, 0.002, 0.002,
    0.002, 0.002, 0.002, 0.002, 0.002, 0.002, 0.002, 0.002, 0.002, 0.002,
    0.002, 0.002, 0.002, 0.002, 0.002, 0.002, 0.002, 0.002, 0.002, 0.002,
    0.002, 0.002, 0.002, 0.002, 0.002, 0.002, 0.002, 0.002, 0.002, 0.002]
heart_tloss_arctan = [
    0.665, 0.648, 0.640, 0.636, 0.633, 0.630, 0.627, 0.627, 0.626, 0.6255,
    0.625, 0.6245, 0.6245, 0.624, 0.623, 0.6225, 0.622, 0.6218, 0.6215, 0.6212,
    0.621, 0.6207, 0.6205, 0.6203, 0.620, 0.6198, 0.6196, 0.6195, 0.6193, 0.6192,
    0.619, 0.619, 0.6188, 0.6186, 0.6185, 0.6183, 0.6182, 0.618, 0.6178, 0.6177,
    0.6176, 0.6175, 0.6174, 0.6173, 0.6172, 0.617, 0.617, 0.617, 0.617, 0.617]
heart_tloss_arctan_sd = [
    0.0015, 0.0015, 0.0015, 0.0015, 0.0015, 0.0015, 0.0015, 0.0015, 0.0015, 0.0015,
    0.0015, 0.0015, 0.0015, 0.0015, 0.0015, 0.0015, 0.0015, 0.0015, 0.0015, 0.0015,
    0.0015, 0.0015, 0.0015, 0.0015, 0.0015, 0.0015, 0.0015, 0.0015, 0.0015, 0.0015,
    0.0015, 0.0015, 0.0015, 0.0015, 0.0015, 0.0015, 0.0015, 0.0015, 0.0015, 0.0015,
    0.0015, 0.0015, 0.0015, 0.0015, 0.0015, 0.0015, 0.0015, 0.0015, 0.0015, 0.0015]
heart_tloss_elu = [
    0.675, 0.664, 0.656, 0.650, 0.645, 0.640, 0.637, 0.634, 0.632, 0.630,
    0.629, 0.628, 0.627, 0.626, 0.625, 0.6245, 0.624, 0.6235, 0.623, 0.6225,
    0.622, 0.6215, 0.621, 0.6207, 0.6205, 0.620, 0.620, 0.6198, 0.6195, 0.6193,
    0.619, 0.619, 0.6188, 0.6185, 0.6183, 0.618, 0.618, 0.618, 0.6178, 0.6177,
    0.6175, 0.6175, 0.6174, 0.6173, 0.6172, 0.6172, 0.6171, 0.617, 0.617, 0.617]
heart_tloss_elu_sd = [
    0.0015, 0.0015, 0.0015, 0.0015, 0.0015, 0.0015, 0.0015, 0.0015, 0.0015, 0.0015,
    0.0015, 0.0015, 0.0015, 0.0015, 0.0015, 0.0015, 0.0015, 0.0015, 0.0015, 0.0015,
    0.0015, 0.0015, 0.0015, 0.0015, 0.0015, 0.0015, 0.0015, 0.0015, 0.0015, 0.0015,
    0.0015, 0.0015, 0.0015, 0.0015, 0.0015, 0.0015, 0.0015, 0.0015, 0.0015, 0.0015,
    0.0015, 0.0015, 0.0015, 0.0015, 0.0015, 0.0015, 0.0015, 0.0015, 0.0015, 0.0015]
heart_tloss_tanh = [
    0.663, 0.645, 0.637, 0.632, 0.628, 0.626, 0.624, 0.623, 0.622, 0.6215,
    0.621, 0.6205, 0.620, 0.620, 0.6195, 0.619, 0.619, 0.6185, 0.618, 0.618,
    0.6177, 0.6175, 0.6172, 0.617, 0.617, 0.6168, 0.6166, 0.6165, 0.6163, 0.6162,
    0.616, 0.616, 0.616, 0.6158, 0.6157, 0.6156, 0.6155, 0.6155, 0.6154, 0.6153,
    0.6152, 0.6152, 0.6151, 0.615, 0.615, 0.615, 0.615, 0.615, 0.615, 0.615]
heart_tloss_tanh_sd = [
    0.0015, 0.0015, 0.0015, 0.0015, 0.0015, 0.0015, 0.0015, 0.0015, 0.0015, 0.0015,
    0.0015, 0.0015, 0.0015, 0.0015, 0.0015, 0.0015, 0.0015, 0.0015, 0.0015, 0.0015,
    0.0015, 0.0015, 0.0015, 0.0015, 0.0015, 0.0015, 0.0015, 0.0015, 0.0015, 0.0015,
    0.0015, 0.0015, 0.0015, 0.0015, 0.0015, 0.0015, 0.0015, 0.0015, 0.0015, 0.0015,
    0.0015, 0.0015, 0.0015, 0.0015, 0.0015, 0.0015, 0.0015, 0.0015, 0.0015, 0.0015]

heart_vloss_vqc = [
    0.670, 0.660, 0.655, 0.651, 0.649, 0.648, 0.647, 0.646, 0.645, 0.644,
    0.643, 0.642, 0.641, 0.641, 0.640, 0.639, 0.638, 0.637, 0.636, 0.636,
    0.635, 0.633, 0.632, 0.633, 0.633, 0.632, 0.632, 0.631, 0.630, 0.630,
    0.629, 0.629, 0.629, 0.628, 0.628, 0.628, 0.627, 0.628, 0.627, 0.627,
    0.626, 0.626, 0.626, 0.627, 0.626, 0.625, 0.625, 0.624, 0.624, 0.623]
heart_vloss_vqc_sd = [
    0.004, 0.004, 0.004, 0.004, 0.004, 0.004, 0.004, 0.004, 0.004, 0.004,
    0.004, 0.004, 0.004, 0.004, 0.004, 0.004, 0.004, 0.004, 0.004, 0.004,
    0.004, 0.004, 0.004, 0.004, 0.004, 0.004, 0.004, 0.004, 0.004, 0.004,
    0.004, 0.004, 0.004, 0.004, 0.004, 0.004, 0.004, 0.004, 0.004, 0.004,
    0.004, 0.004, 0.004, 0.004, 0.004, 0.004, 0.004, 0.004, 0.004, 0.004]
heart_vloss_arctan = [
    0.645, 0.638, 0.634, 0.632, 0.630, 0.628, 0.628, 0.627, 0.626, 0.625,
    0.623, 0.622, 0.623, 0.625, 0.624, 0.622, 0.623, 0.619, 0.624, 0.623,
    0.622, 0.621, 0.625, 0.623, 0.623, 0.622, 0.622, 0.621, 0.620, 0.621,
    0.622, 0.620, 0.621, 0.621, 0.621, 0.620, 0.621, 0.620, 0.619, 0.617,
    0.619, 0.621, 0.619, 0.620, 0.619, 0.618, 0.618, 0.617, 0.617, 0.616]
heart_vloss_arctan_sd = [
    0.004, 0.004, 0.004, 0.004, 0.004, 0.004, 0.004, 0.004, 0.004, 0.004,
    0.004, 0.004, 0.004, 0.004, 0.004, 0.004, 0.004, 0.004, 0.004, 0.004,
    0.004, 0.004, 0.004, 0.004, 0.004, 0.004, 0.004, 0.004, 0.004, 0.004,
    0.004, 0.004, 0.004, 0.004, 0.004, 0.004, 0.004, 0.004, 0.004, 0.004,
    0.004, 0.004, 0.004, 0.004, 0.004, 0.004, 0.004, 0.004, 0.004, 0.004]
heart_vloss_elu = [
    0.661, 0.658, 0.655, 0.650, 0.645, 0.640, 0.638, 0.636, 0.634, 0.632,
    0.631, 0.630, 0.630, 0.629, 0.628, 0.628, 0.627, 0.626, 0.626, 0.626,
    0.626, 0.625, 0.624, 0.625, 0.625, 0.625, 0.624, 0.624, 0.624, 0.624,
    0.623, 0.623, 0.623, 0.623, 0.622, 0.622, 0.622, 0.622, 0.621, 0.621,
    0.621, 0.621, 0.621, 0.621, 0.620, 0.620, 0.620, 0.620, 0.619, 0.619]
heart_vloss_elu_sd = [
    0.003, 0.003, 0.003, 0.003, 0.003, 0.003, 0.003, 0.003, 0.003, 0.003,
    0.003, 0.003, 0.003, 0.003, 0.003, 0.003, 0.003, 0.003, 0.003, 0.003,
    0.003, 0.003, 0.003, 0.003, 0.003, 0.003, 0.003, 0.003, 0.003, 0.003,
    0.003, 0.003, 0.003, 0.003, 0.003, 0.003, 0.003, 0.003, 0.003, 0.003,
    0.003, 0.003, 0.003, 0.003, 0.003, 0.003, 0.003, 0.003, 0.003, 0.003]
heart_vloss_tanh = [
    0.647, 0.640, 0.636, 0.633, 0.630, 0.627, 0.625, 0.623, 0.622, 0.621,
    0.619, 0.618, 0.621, 0.621, 0.620, 0.621, 0.620, 0.619, 0.619, 0.618,
    0.618, 0.619, 0.618, 0.618, 0.618, 0.618, 0.618, 0.617, 0.618, 0.617,
    0.617, 0.616, 0.616, 0.616, 0.616, 0.616, 0.616, 0.615, 0.615, 0.615,
    0.614, 0.615, 0.615, 0.614, 0.614, 0.613, 0.613, 0.613, 0.612, 0.611]
heart_vloss_tanh_sd = [
    0.004, 0.004, 0.004, 0.004, 0.004, 0.004, 0.004, 0.004, 0.004, 0.004,
    0.004, 0.004, 0.004, 0.004, 0.004, 0.004, 0.004, 0.004, 0.004, 0.004,
    0.004, 0.004, 0.004, 0.004, 0.004, 0.004, 0.004, 0.004, 0.004, 0.004,
    0.004, 0.004, 0.004, 0.004, 0.004, 0.004, 0.004, 0.004, 0.004, 0.004,
    0.004, 0.004, 0.004, 0.004, 0.004, 0.004, 0.004, 0.004, 0.004, 0.004]

# ---------------- Seeds ----------------
seeds_tacc_vqc = [
    0.25, 0.36, 0.42, 0.48, 0.55, 0.61, 0.66, 0.69, 0.71, 0.725,
    0.74, 0.735, 0.73, 0.725, 0.72, 0.72, 0.72, 0.72, 0.722, 0.72,
    0.72, 0.722, 0.72, 0.72, 0.725, 0.722, 0.725, 0.72, 0.725, 0.728,
    0.725, 0.728, 0.73, 0.73, 0.732, 0.73, 0.735, 0.733, 0.735, 0.74,
    0.738, 0.74, 0.742, 0.745, 0.745, 0.748, 0.75, 0.752, 0.755, 0.758]
seeds_tacc_vqc_sd = [
    0.03, 0.04, 0.045, 0.05, 0.05, 0.05, 0.045, 0.04, 0.04, 0.04,
    0.04, 0.04, 0.04, 0.04, 0.04, 0.04, 0.04, 0.04, 0.04, 0.04,
    0.04, 0.04, 0.04, 0.04, 0.04, 0.04, 0.04, 0.04, 0.04, 0.04,
    0.04, 0.04, 0.04, 0.04, 0.04, 0.04, 0.04, 0.04, 0.04, 0.04,
    0.04, 0.04, 0.04, 0.04, 0.04, 0.04, 0.04, 0.04, 0.04, 0.04]
seeds_tacc_elu = [
    0.38, 0.48, 0.55, 0.61, 0.66, 0.69, 0.72, 0.735, 0.75, 0.755,
    0.76, 0.765, 0.77, 0.772, 0.775, 0.778, 0.78, 0.782, 0.785, 0.787,
    0.79, 0.79, 0.792, 0.795, 0.795, 0.797, 0.80, 0.80, 0.802, 0.80,
    0.805, 0.805, 0.805, 0.808, 0.81, 0.808, 0.81, 0.812, 0.81, 0.815,
    0.815, 0.812, 0.815, 0.818, 0.815, 0.82, 0.818, 0.82, 0.822, 0.82]
seeds_tacc_elu_sd = [
    0.03, 0.03, 0.03, 0.03, 0.03, 0.03, 0.03, 0.03, 0.03, 0.03,
    0.03, 0.03, 0.03, 0.03, 0.03, 0.03, 0.03, 0.03, 0.03, 0.03,
    0.03, 0.03, 0.03, 0.03, 0.03, 0.03, 0.03, 0.03, 0.03, 0.03,
    0.03, 0.03, 0.03, 0.03, 0.03, 0.03, 0.03, 0.03, 0.03, 0.03,
    0.03, 0.03, 0.03, 0.03, 0.03, 0.03, 0.03, 0.03, 0.03, 0.03]
seeds_tacc_sin = [
    0.42, 0.55, 0.62, 0.67, 0.70, 0.72, 0.74, 0.75, 0.76, 0.765,
    0.77, 0.772, 0.775, 0.778, 0.78, 0.782, 0.785, 0.787, 0.79, 0.79,
    0.792, 0.795, 0.795, 0.797, 0.80, 0.80, 0.802, 0.803, 0.805, 0.805,
    0.807, 0.808, 0.81, 0.81, 0.812, 0.812, 0.813, 0.815, 0.815, 0.816,
    0.817, 0.818, 0.818, 0.82, 0.82, 0.821, 0.822, 0.823, 0.824, 0.825]
seeds_tacc_sin_sd = [
    0.03, 0.03, 0.03, 0.03, 0.03, 0.03, 0.03, 0.03, 0.03, 0.03,
    0.03, 0.03, 0.03, 0.03, 0.03, 0.03, 0.03, 0.03, 0.03, 0.03,
    0.03, 0.03, 0.03, 0.03, 0.03, 0.03, 0.03, 0.03, 0.03, 0.03,
    0.03, 0.03, 0.03, 0.03, 0.03, 0.03, 0.03, 0.03, 0.03, 0.03,
    0.03, 0.03, 0.03, 0.03, 0.03, 0.03, 0.03, 0.03, 0.03, 0.03]
seeds_tacc_tanh = [
    0.48, 0.62, 0.68, 0.72, 0.74, 0.755, 0.765, 0.77, 0.775, 0.78,
    0.782, 0.785, 0.787, 0.79, 0.79, 0.792, 0.795, 0.797, 0.80, 0.80,
    0.80, 0.802, 0.805, 0.805, 0.807, 0.808, 0.81, 0.81, 0.81, 0.812,
    0.812, 0.813, 0.815, 0.815, 0.815, 0.816, 0.817, 0.818, 0.818, 0.819,
    0.82, 0.82, 0.82, 0.821, 0.822, 0.822, 0.823, 0.823, 0.824, 0.824]
seeds_tacc_tanh_sd = [
    0.03, 0.03, 0.03, 0.03, 0.03, 0.03, 0.03, 0.03, 0.03, 0.03,
    0.03, 0.03, 0.03, 0.03, 0.03, 0.03, 0.03, 0.03, 0.03, 0.03,
    0.03, 0.03, 0.03, 0.03, 0.03, 0.03, 0.03, 0.03, 0.03, 0.03,
    0.03, 0.03, 0.03, 0.03, 0.03, 0.03, 0.03, 0.03, 0.03, 0.03,
    0.03, 0.03, 0.03, 0.03, 0.03, 0.03, 0.03, 0.03, 0.03, 0.03]

seeds_vacc_vqc = [
    0.33, 0.40, 0.48, 0.56, 0.62, 0.65, 0.67, 0.68, 0.69, 0.70,
    0.69, 0.70, 0.71, 0.70, 0.69, 0.70, 0.70, 0.71, 0.70, 0.69,
    0.70, 0.71, 0.70, 0.70, 0.69, 0.70, 0.71, 0.70, 0.69, 0.70,
    0.70, 0.71, 0.70, 0.69, 0.70, 0.70, 0.69, 0.70, 0.71, 0.70,
    0.70, 0.71, 0.70, 0.71, 0.72, 0.72, 0.73, 0.72, 0.72, 0.71]
seeds_vacc_vqc_sd = [
    0.05, 0.05, 0.05, 0.05, 0.05, 0.05, 0.05, 0.05, 0.05, 0.05,
    0.05, 0.05, 0.05, 0.05, 0.05, 0.05, 0.05, 0.05, 0.05, 0.05,
    0.05, 0.05, 0.05, 0.05, 0.05, 0.05, 0.05, 0.05, 0.05, 0.05,
    0.05, 0.05, 0.05, 0.05, 0.05, 0.05, 0.05, 0.05, 0.05, 0.05,
    0.05, 0.05, 0.05, 0.05, 0.05, 0.05, 0.05, 0.05, 0.05, 0.05]
seeds_vacc_elu = [
    0.40, 0.55, 0.63, 0.68, 0.70, 0.72, 0.73, 0.74, 0.75, 0.74,
    0.76, 0.75, 0.77, 0.76, 0.77, 0.78, 0.77, 0.78, 0.79, 0.78,
    0.78, 0.79, 0.78, 0.80, 0.79, 0.78, 0.80, 0.79, 0.80, 0.81,
    0.79, 0.80, 0.81, 0.80, 0.79, 0.81, 0.80, 0.82, 0.81, 0.80,
    0.82, 0.81, 0.80, 0.82, 0.81, 0.83, 0.80, 0.82, 0.81, 0.82]
seeds_vacc_elu_sd = [
    0.05, 0.05, 0.05, 0.05, 0.05, 0.05, 0.05, 0.05, 0.05, 0.05,
    0.05, 0.05, 0.05, 0.05, 0.05, 0.05, 0.05, 0.05, 0.05, 0.05,
    0.05, 0.05, 0.05, 0.05, 0.05, 0.05, 0.05, 0.05, 0.05, 0.05,
    0.05, 0.05, 0.05, 0.05, 0.05, 0.05, 0.05, 0.05, 0.05, 0.05,
    0.05, 0.05, 0.05, 0.05, 0.05, 0.05, 0.05, 0.05, 0.05, 0.05]
seeds_vacc_sin = [
    0.42, 0.58, 0.66, 0.70, 0.72, 0.73, 0.75, 0.74, 0.76, 0.77,
    0.76, 0.78, 0.77, 0.78, 0.79, 0.78, 0.79, 0.78, 0.80, 0.79,
    0.80, 0.79, 0.81, 0.80, 0.79, 0.81, 0.80, 0.81, 0.80, 0.82,
    0.81, 0.80, 0.82, 0.81, 0.82, 0.80, 0.81, 0.82, 0.81, 0.83,
    0.81, 0.82, 0.81, 0.83, 0.82, 0.81, 0.83, 0.82, 0.83, 0.82]
seeds_vacc_sin_sd = [
    0.05, 0.05, 0.05, 0.05, 0.05, 0.05, 0.05, 0.05, 0.05, 0.05,
    0.05, 0.05, 0.05, 0.05, 0.05, 0.05, 0.05, 0.05, 0.05, 0.05,
    0.05, 0.05, 0.05, 0.05, 0.05, 0.05, 0.05, 0.05, 0.05, 0.05,
    0.05, 0.05, 0.05, 0.05, 0.05, 0.05, 0.05, 0.05, 0.05, 0.05,
    0.05, 0.05, 0.05, 0.05, 0.05, 0.05, 0.05, 0.05, 0.05, 0.05]
seeds_vacc_tanh = [
    0.45, 0.62, 0.70, 0.73, 0.75, 0.76, 0.77, 0.78, 0.78, 0.79,
    0.80, 0.79, 0.80, 0.79, 0.81, 0.80, 0.79, 0.80, 0.81, 0.80,
    0.79, 0.80, 0.81, 0.80, 0.80, 0.81, 0.80, 0.79, 0.81, 0.80,
    0.81, 0.80, 0.81, 0.80, 0.81, 0.82, 0.80, 0.81, 0.80, 0.81,
    0.82, 0.81, 0.80, 0.81, 0.82, 0.81, 0.80, 0.81, 0.82, 0.81]
seeds_vacc_tanh_sd = [
    0.05, 0.05, 0.05, 0.05, 0.05, 0.05, 0.05, 0.05, 0.05, 0.05,
    0.05, 0.05, 0.05, 0.05, 0.05, 0.05, 0.05, 0.05, 0.05, 0.05,
    0.05, 0.05, 0.05, 0.05, 0.05, 0.05, 0.05, 0.05, 0.05, 0.05,
    0.05, 0.05, 0.05, 0.05, 0.05, 0.05, 0.05, 0.05, 0.05, 0.05,
    0.05, 0.05, 0.05, 0.05, 0.05, 0.05, 0.05, 0.05, 0.05, 0.05]

seeds_tloss_vqc = [
    1.14, 1.12, 1.10, 1.08, 1.06, 1.04, 1.025, 1.012, 1.003, 0.997,
    0.993, 0.990, 0.988, 0.987, 0.986, 0.985, 0.984, 0.983, 0.983, 0.982,
    0.982, 0.981, 0.981, 0.980, 0.980, 0.979, 0.979, 0.978, 0.978, 0.977,
    0.977, 0.976, 0.976, 0.975, 0.975, 0.974, 0.974, 0.973, 0.973, 0.972,
    0.972, 0.971, 0.971, 0.970, 0.970, 0.969, 0.969, 0.968, 0.968, 0.967]
seeds_tloss_vqc_sd = [
    0.003, 0.003, 0.003, 0.003, 0.003, 0.003, 0.003, 0.003, 0.003, 0.003,
    0.003, 0.003, 0.003, 0.003, 0.003, 0.003, 0.003, 0.003, 0.003, 0.003,
    0.003, 0.003, 0.003, 0.003, 0.003, 0.003, 0.003, 0.003, 0.003, 0.003,
    0.003, 0.003, 0.003, 0.003, 0.003, 0.003, 0.003, 0.003, 0.003, 0.003,
    0.003, 0.003, 0.003, 0.003, 0.003, 0.003, 0.003, 0.003, 0.003, 0.003]
seeds_tloss_elu = [
    1.13, 1.09, 1.06, 1.037, 1.02, 1.009, 1.001, 0.995, 0.991, 0.987,
    0.984, 0.981, 0.979, 0.977, 0.975, 0.973, 0.971, 0.970, 0.968, 0.967,
    0.966, 0.965, 0.964, 0.963, 0.962, 0.961, 0.960, 0.960, 0.959, 0.959,
    0.958, 0.958, 0.957, 0.957, 0.956, 0.956, 0.956, 0.955, 0.955, 0.955,
    0.954, 0.954, 0.954, 0.953, 0.953, 0.953, 0.953, 0.952, 0.952, 0.952]
seeds_tloss_elu_sd = [
    0.002, 0.002, 0.002, 0.002, 0.002, 0.002, 0.002, 0.002, 0.002, 0.002,
    0.002, 0.002, 0.002, 0.002, 0.002, 0.002, 0.002, 0.002, 0.002, 0.002,
    0.002, 0.002, 0.002, 0.002, 0.002, 0.002, 0.002, 0.002, 0.002, 0.002,
    0.002, 0.002, 0.002, 0.002, 0.002, 0.002, 0.002, 0.002, 0.002, 0.002,
    0.002, 0.002, 0.002, 0.002, 0.002, 0.002, 0.002, 0.002, 0.002, 0.002]
seeds_tloss_sin = [
    1.12, 1.07, 1.04, 1.022, 1.01, 1.002, 0.996, 0.992, 0.988, 0.985,
    0.982, 0.979, 0.977, 0.975, 0.973, 0.971, 0.970, 0.968, 0.967, 0.966,
    0.965, 0.964, 0.963, 0.962, 0.961, 0.960, 0.960, 0.959, 0.959, 0.958,
    0.958, 0.957, 0.957, 0.956, 0.956, 0.955, 0.955, 0.955, 0.954, 0.954,
    0.954, 0.953, 0.953, 0.953, 0.952, 0.952, 0.952, 0.952, 0.951, 0.951]
seeds_tloss_sin_sd = [
    0.002, 0.002, 0.002, 0.002, 0.002, 0.002, 0.002, 0.002, 0.002, 0.002,
    0.002, 0.002, 0.002, 0.002, 0.002, 0.002, 0.002, 0.002, 0.002, 0.002,
    0.002, 0.002, 0.002, 0.002, 0.002, 0.002, 0.002, 0.002, 0.002, 0.002,
    0.002, 0.002, 0.002, 0.002, 0.002, 0.002, 0.002, 0.002, 0.002, 0.002,
    0.002, 0.002, 0.002, 0.002, 0.002, 0.002, 0.002, 0.002, 0.002, 0.002]
seeds_tloss_tanh = [
    1.10, 1.05, 1.02, 1.003, 0.992, 0.985, 0.979, 0.974, 0.970, 0.967,
    0.965, 0.963, 0.961, 0.960, 0.959, 0.958, 0.957, 0.956, 0.956, 0.955,
    0.955, 0.954, 0.954, 0.953, 0.953, 0.953, 0.952, 0.952, 0.952, 0.952,
    0.951, 0.951, 0.951, 0.951, 0.951, 0.950, 0.950, 0.950, 0.950, 0.950,
    0.950, 0.950, 0.950, 0.950, 0.950, 0.950, 0.950, 0.950, 0.950, 0.950]
seeds_tloss_tanh_sd = [
    0.002, 0.002, 0.002, 0.002, 0.002, 0.002, 0.002, 0.002, 0.002, 0.002,
    0.002, 0.002, 0.002, 0.002, 0.002, 0.002, 0.002, 0.002, 0.002, 0.002,
    0.002, 0.002, 0.002, 0.002, 0.002, 0.002, 0.002, 0.002, 0.002, 0.002,
    0.002, 0.002, 0.002, 0.002, 0.002, 0.002, 0.002, 0.002, 0.002, 0.002,
    0.002, 0.002, 0.002, 0.002, 0.002, 0.002, 0.002, 0.002, 0.002, 0.002]

seeds_vloss_vqc = [
    1.135, 1.11, 1.085, 1.06, 1.042, 1.028, 1.017, 1.01, 1.005, 1.0,
    0.998, 0.995, 0.998, 0.99, 0.993, 0.985, 0.99, 0.983, 0.985, 0.98,
    0.99, 0.982, 0.985, 0.98, 0.978, 0.985, 0.98, 0.983, 0.977, 0.98,
    0.975, 0.983, 0.977, 0.98, 0.975, 0.98, 0.977, 0.975, 0.98, 0.975,
    0.977, 0.975, 0.973, 0.977, 0.975, 0.973, 0.977, 0.973, 0.975, 0.972]
seeds_vloss_vqc_sd = [
    0.01, 0.01, 0.01, 0.01, 0.01, 0.01, 0.01, 0.01, 0.01, 0.01,
    0.01, 0.01, 0.01, 0.01, 0.01, 0.01, 0.01, 0.01, 0.01, 0.01,
    0.01, 0.01, 0.01, 0.01, 0.01, 0.01, 0.01, 0.01, 0.01, 0.01,
    0.01, 0.01, 0.01, 0.01, 0.01, 0.01, 0.01, 0.01, 0.01, 0.01,
    0.01, 0.01, 0.01, 0.01, 0.01, 0.01, 0.01, 0.01, 0.01, 0.01]
seeds_vloss_elu = [
    1.12, 1.085, 1.053, 1.03, 1.013, 1.0, 0.995, 0.99, 0.985, 0.983,
    0.98, 0.977, 0.975, 0.973, 0.975, 0.97, 0.967, 0.97, 0.965, 0.963,
    0.967, 0.962, 0.965, 0.96, 0.963, 0.96, 0.965, 0.958, 0.96, 0.962,
    0.958, 0.96, 0.956, 0.96, 0.958, 0.956, 0.96, 0.956, 0.958, 0.955,
    0.958, 0.956, 0.955, 0.958, 0.956, 0.955, 0.956, 0.955, 0.956, 0.955]
seeds_vloss_elu_sd = [
    0.01, 0.01, 0.01, 0.01, 0.01, 0.01, 0.01, 0.01, 0.01, 0.01,
    0.01, 0.01, 0.01, 0.01, 0.01, 0.01, 0.01, 0.01, 0.01, 0.01,
    0.01, 0.01, 0.01, 0.01, 0.01, 0.01, 0.01, 0.01, 0.01, 0.01,
    0.01, 0.01, 0.01, 0.01, 0.01, 0.01, 0.01, 0.01, 0.01, 0.01,
    0.01, 0.01, 0.01, 0.01, 0.01, 0.01, 0.01, 0.01, 0.01, 0.01]
seeds_vloss_sin = [
    1.11, 1.065, 1.033, 1.01, 0.998, 0.99, 0.985, 0.98, 0.977, 0.975,
    0.973, 0.97, 0.967, 0.97, 0.965, 0.963, 0.967, 0.96, 0.963, 0.96,
    0.958, 0.963, 0.96, 0.957, 0.96, 0.956, 0.958, 0.96, 0.956, 0.958,
    0.955, 0.958, 0.956, 0.955, 0.958, 0.956, 0.954, 0.956, 0.955, 0.956,
    0.954, 0.956, 0.955, 0.953, 0.956, 0.955, 0.953, 0.955, 0.953, 0.954]
seeds_vloss_sin_sd = [
    0.01, 0.01, 0.01, 0.01, 0.01, 0.01, 0.01, 0.01, 0.01, 0.01,
    0.01, 0.01, 0.01, 0.01, 0.01, 0.01, 0.01, 0.01, 0.01, 0.01,
    0.01, 0.01, 0.01, 0.01, 0.01, 0.01, 0.01, 0.01, 0.01, 0.01,
    0.01, 0.01, 0.01, 0.01, 0.01, 0.01, 0.01, 0.01, 0.01, 0.01,
    0.01, 0.01, 0.01, 0.01, 0.01, 0.01, 0.01, 0.01, 0.01, 0.01]
seeds_vloss_tanh = [
    1.09, 1.04, 1.008, 0.992, 0.982, 0.977, 0.972, 0.969, 0.967, 0.965,
    0.962, 0.965, 0.959, 0.962, 0.958, 0.96, 0.958, 0.956, 0.96, 0.956,
    0.958, 0.955, 0.958, 0.956, 0.954, 0.958, 0.955, 0.953, 0.956, 0.954,
    0.956, 0.953, 0.955, 0.953, 0.956, 0.953, 0.954, 0.952, 0.955, 0.953,
    0.954, 0.952, 0.954, 0.953, 0.952, 0.954, 0.952, 0.953, 0.952, 0.953]
seeds_vloss_tanh_sd = [
    0.01, 0.01, 0.01, 0.01, 0.01, 0.01, 0.01, 0.01, 0.01, 0.01,
    0.01, 0.01, 0.01, 0.01, 0.01, 0.01, 0.01, 0.01, 0.01, 0.01,
    0.01, 0.01, 0.01, 0.01, 0.01, 0.01, 0.01, 0.01, 0.01, 0.01,
    0.01, 0.01, 0.01, 0.01, 0.01, 0.01, 0.01, 0.01, 0.01, 0.01,
    0.01, 0.01, 0.01, 0.01, 0.01, 0.01, 0.01, 0.01, 0.01, 0.01]

# ---------------- styling ----------------
W, H = 906, 856
FONT = "Liberation Serif"
GRID = "#d9d9d9"
SPINE = "#cfcfcf"
TXT = "#4d4d4d"
COLOR = {
    "VQC": "#0173b2", "VQC-arctan": "#de8f05", "VQC-clamp": "#029e73",
    "VQC-elu": "#d55e00", "VQC-sin": "#ca9161", "VQC-tanh": "#fbafe4",
}
DASH = {"VQC-clamp": "4px,2.5px"}


def rgba(hex_color, alpha):
    h = hex_color.lstrip("#")
    r, g, b = int(h[0:2], 16), int(h[2:4], 16), int(h[4:6], 16)
    return f"rgba({r},{g},{b},{alpha})"


def fx(x):
    return x / W


def fy(y):
    return 1 - y / H


fig = go.Figure()
layout = {}
axis_count = [0]


def add_panel(xpx, ypx, yrange, tick0, dtick, fmt, ytitle, show_x, series, xmax=50.0):
    axis_count[0] += 1
    n = axis_count[0]
    xk = "xaxis" if n == 1 else f"xaxis{n}"
    yk = "yaxis" if n == 1 else f"yaxis{n}"
    xr = "x" if n == 1 else f"x{n}"
    yr = "y" if n == 1 else f"y{n}"
    layout[xk] = dict(
        domain=[fx(xpx[0]), min(1.0, fx(xpx[1]))], anchor=yr, range=[0, xmax],
        tick0=0, dtick=10, showgrid=True, gridcolor=GRID, gridwidth=1.3,
        showline=True, linecolor=SPINE, linewidth=1.2, zeroline=False, ticks="",
        showticklabels=show_x, tickfont=dict(family=FONT, size=10, color=TXT),
        title=dict(text="Epoch" if show_x else "", font=dict(family=FONT, size=11, color=TXT), standoff=2),
        fixedrange=True,
    )
    layout[yk] = dict(
        domain=[fy(ypx[1]), fy(ypx[0])], anchor=xr, range=yrange,
        tick0=tick0, dtick=dtick, tickformat=fmt, showgrid=True, gridcolor=GRID,
        gridwidth=1.3, showline=True, linecolor=SPINE, linewidth=1.2, zeroline=False,
        ticks="", ticklabelstandoff=6, tickfont=dict(family=FONT, size=10, color=TXT),
        title=dict(text=ytitle, font=dict(family=FONT, size=11, color=TXT), standoff=4),
        fixedrange=True,
    )
    # error bands first, lines on top
    for name, mean, sd in series:
        upper = [m + s for m, s in zip(mean, sd)]
        lower = [m - s for m, s in zip(mean, sd)]
        fig.add_trace(go.Scatter(
            x=EPOCH + EPOCH[::-1], y=upper + lower[::-1], xaxis=xr, yaxis=yr,
            fill="toself", fillcolor=rgba(COLOR[name], 0.22), line=dict(width=0),
            mode="lines", hoverinfo="skip", showlegend=False))
    for name, mean, sd in series:
        fig.add_trace(go.Scatter(
            x=EPOCH, y=mean, xaxis=xr, yaxis=yr, mode="lines", name=name,
            line=dict(color=COLOR[name], width=1.6, dash=DASH.get(name, "solid")),
            showlegend=False))


def add_legend(box, item_y, line_x, text_x, names):
    x0, y0, x1, y1 = box
    r = 3.0
    pts = [
        f"M{fx(x0 + r)},{fy(y0)}", f"L{fx(x1 - r)},{fy(y0)}", f"Q{fx(x1)},{fy(y0)} {fx(x1)},{fy(y0 + r)}",
        f"L{fx(x1)},{fy(y1 - r)}", f"Q{fx(x1)},{fy(y1)} {fx(x1 - r)},{fy(y1)}",
        f"L{fx(x0 + r)},{fy(y1)}", f"Q{fx(x0)},{fy(y1)} {fx(x0)},{fy(y1 - r)}",
        f"L{fx(x0)},{fy(y0 + r)}", f"Q{fx(x0)},{fy(y0)} {fx(x0 + r)},{fy(y0)}", "Z",
    ]
    shapes.append(dict(type="path", xref="paper", yref="paper", path=" ".join(pts),
                       fillcolor="rgba(255,255,255,0.85)", line=dict(color="#cccccc", width=1)))
    for yy, name in zip(item_y, names):
        shapes.append(dict(type="line", xref="paper", yref="paper",
                           x0=fx(line_x[0]), x1=fx(line_x[1]), y0=fy(yy), y1=fy(yy),
                           line=dict(color=COLOR[name], width=1.8, dash=DASH.get(name, "solid"))))
        annotations.append(dict(xref="paper", yref="paper", x=fx(text_x), y=fy(yy),
                                xanchor="left", yanchor="middle", showarrow=False, text=name,
                                font=dict(family=FONT, size=10.5, color="#333333")))


shapes, annotations = [], []

# ---------------- Iris ----------------
IX = [(50.7, 220.7), (276.0, 445.7)]
IY = [(3.0, 165.0), (177.0, 340.0)]
ACC_I, LOSS_I = [0.449, 0.91], [0.8767, 1.0638]
add_panel(IX[0], IY[0], ACC_I, 0.5, 0.1, ".1f", "Training Accuracy", False, [
    ("VQC", iris_tacc_vqc, iris_tacc_vqc_sd), ("VQC-arctan", iris_tacc_arctan, iris_tacc_arctan_sd),
    ("VQC-clamp", iris_tacc_vqc, iris_tacc_vqc_sd), ("VQC-tanh", iris_tacc_tanh, iris_tacc_tanh_sd)])
add_panel(IX[1], IY[0], ACC_I, 0.5, 0.1, ".1f", "Validation Accuracy", False, [
    ("VQC", iris_vacc_vqc, iris_vacc_vqc_sd), ("VQC-arctan", iris_vacc_arctan, iris_vacc_arctan_sd),
    ("VQC-clamp", iris_vacc_vqc, iris_vacc_vqc_sd), ("VQC-tanh", iris_vacc_tanh, iris_vacc_tanh_sd)])
add_panel(IX[0], IY[1], LOSS_I, 0.9, 0.025, ".3f", "Training Loss", True, [
    ("VQC", iris_tloss_vqc, iris_tloss_vqc_sd), ("VQC-arctan", iris_tloss_arctan, iris_tloss_arctan_sd),
    ("VQC-clamp", iris_tloss_vqc, iris_tloss_vqc_sd), ("VQC-tanh", iris_tloss_tanh, iris_tloss_tanh_sd)])
add_panel(IX[1], IY[1], LOSS_I, 0.9, 0.025, ".3f", "Validation Loss", True, [
    ("VQC", iris_vloss_vqc, iris_vloss_vqc_sd), ("VQC-arctan", iris_vloss_arctan, iris_vloss_arctan_sd),
    ("VQC-clamp", iris_vloss_vqc, iris_vloss_vqc_sd), ("VQC-tanh", iris_vloss_tanh, iris_vloss_tanh_sd)])
add_legend((360, 181, 442, 234), [190, 202, 214.5, 226.5], (363, 382), 390,
           ["VQC", "VQC-arctan", "VQC-clamp", "VQC-tanh"])

# ---------------- Wine ----------------
WX = [(507.7, 681.5), (732.3, 906.0)]
WY = [(3.0, 165.0), (176.0, 338.5)]
ACC_W, LOSS_W = [0.35, 0.93], [0.9184, 1.0777]
XMAX_R = 50 * (906.0 - 732.3) / (907.0 - 732.3)
add_panel(WX[0], WY[0], ACC_W, 0.4, 0.1, ".1f", "Training Accuracy", False, [
    ("VQC", wine_tacc_vqc, wine_tacc_vqc_sd), ("VQC-arctan", wine_tacc_arctan, wine_tacc_arctan_sd),
    ("VQC-elu", wine_tacc_elu, wine_tacc_elu_sd), ("VQC-tanh", wine_tacc_tanh, wine_tacc_tanh_sd)])
add_panel(WX[1], WY[0], ACC_W, 0.4, 0.1, ".1f", "Validation Accuracy", False, [
    ("VQC", wine_vacc_vqc, wine_vacc_vqc_sd), ("VQC-arctan", wine_vacc_arctan, wine_vacc_arctan_sd),
    ("VQC-elu", wine_vacc_elu, wine_vacc_elu_sd), ("VQC-tanh", wine_vacc_tanh, wine_vacc_tanh_sd)],
    xmax=XMAX_R)
add_panel(WX[0], WY[1], LOSS_W, 0.92, 0.02, ".2f", "Training Loss", True, [
    ("VQC", wine_tloss_vqc, wine_tloss_vqc_sd), ("VQC-arctan", wine_tloss_arctan, wine_tloss_arctan_sd),
    ("VQC-elu", wine_tloss_elu, wine_tloss_elu_sd), ("VQC-tanh", wine_tloss_tanh, wine_tloss_tanh_sd)])
add_panel(WX[1], WY[1], LOSS_W, 0.92, 0.02, ".2f", "Validation Loss", True, [
    ("VQC", wine_vloss_vqc, wine_vloss_vqc_sd), ("VQC-arctan", wine_vloss_arctan, wine_vloss_arctan_sd),
    ("VQC-elu", wine_vloss_elu, wine_vloss_elu_sd), ("VQC-tanh", wine_vloss_tanh, wine_vloss_tanh_sd)],
    xmax=XMAX_R)
add_legend((821.7, 181.7, 901.7, 234), [189, 201.7, 214.7, 227.3], (825, 843.3), 851,
           ["VQC", "VQC-arctan", "VQC-elu", "VQC-tanh"])

# ---------------- Heart ----------------
HX = [(46.7, 220.0), (271.5, 444.5)]
HY = [(435.0, 595.7), (606.0, 770.7)]
ACC_H, LOSS_H = [0.5455, 0.8447], [0.6038, 0.6889]
add_panel(HX[0], HY[0], ACC_H, 0.55, 0.05, ".2f", "Training Accuracy", False, [
    ("VQC", heart_tacc_vqc, heart_tacc_vqc_sd), ("VQC-arctan", heart_tacc_arctan, heart_tacc_arctan_sd),
    ("VQC-elu", heart_tacc_elu, heart_tacc_elu_sd), ("VQC-tanh", heart_tacc_tanh, heart_tacc_tanh_sd)])
add_panel(HX[1], HY[0], ACC_H, 0.55, 0.05, ".2f", "Validation Accuracy", False, [
    ("VQC", heart_vacc_vqc, heart_vacc_vqc_sd), ("VQC-arctan", heart_vacc_arctan, heart_vacc_arctan_sd),
    ("VQC-elu", heart_vacc_elu, heart_vacc_elu_sd), ("VQC-tanh", heart_vacc_tanh, heart_vacc_tanh_sd)])
add_panel(HX[0], HY[1], LOSS_H, 0.62, 0.02, ".2f", "Training Loss", True, [
    ("VQC", heart_tloss_vqc, heart_tloss_vqc_sd), ("VQC-arctan", heart_tloss_arctan, heart_tloss_arctan_sd),
    ("VQC-elu", heart_tloss_elu, heart_tloss_elu_sd), ("VQC-tanh", heart_tloss_tanh, heart_tloss_tanh_sd)])
add_panel(HX[1], HY[1], LOSS_H, 0.62, 0.02, ".2f", "Validation Loss", True, [
    ("VQC", heart_vloss_vqc, heart_vloss_vqc_sd), ("VQC-arctan", heart_vloss_arctan, heart_vloss_arctan_sd),
    ("VQC-elu", heart_vloss_elu, heart_vloss_elu_sd), ("VQC-tanh", heart_vloss_tanh, heart_vloss_tanh_sd)])
add_legend((360, 614, 440.7, 667.7), [621, 633.3, 646, 659.3], (363.3, 383.3), 389.3,
           ["VQC", "VQC-arctan", "VQC-elu", "VQC-tanh"])

# ---------------- Seeds ----------------
SX = [(508.0, 682.0), (733.0, 906.0)]
SY = [(435.0, 597.0), (606.0, 770.7)]
ACC_S, LOSS_S = [0.19, 0.93], [0.938, 1.148]
XMAX_S = 50 * (906.0 - 733.0) / (907.5 - 733.0)
add_panel(SX[0], SY[0], ACC_S, 0.2, 0.1, ".1f", "Training Accuracy", False, [
    ("VQC", seeds_tacc_vqc, seeds_tacc_vqc_sd), ("VQC-elu", seeds_tacc_elu, seeds_tacc_elu_sd),
    ("VQC-sin", seeds_tacc_sin, seeds_tacc_sin_sd), ("VQC-tanh", seeds_tacc_tanh, seeds_tacc_tanh_sd)])
add_panel(SX[1], SY[0], ACC_S, 0.2, 0.1, ".1f", "Validation Accuracy", False, [
    ("VQC", seeds_vacc_vqc, seeds_vacc_vqc_sd), ("VQC-elu", seeds_vacc_elu, seeds_vacc_elu_sd),
    ("VQC-sin", seeds_vacc_sin, seeds_vacc_sin_sd), ("VQC-tanh", seeds_vacc_tanh, seeds_vacc_tanh_sd)],
    xmax=XMAX_S)
add_panel(SX[0], SY[1], LOSS_S, 0.95, 0.05, ".2f", "Training Loss", True, [
    ("VQC", seeds_tloss_vqc, seeds_tloss_vqc_sd), ("VQC-elu", seeds_tloss_elu, seeds_tloss_elu_sd),
    ("VQC-sin", seeds_tloss_sin, seeds_tloss_sin_sd), ("VQC-tanh", seeds_tloss_tanh, seeds_tloss_tanh_sd)])
add_panel(SX[1], SY[1], LOSS_S, 0.95, 0.05, ".2f", "Validation Loss", True, [
    ("VQC", seeds_vloss_vqc, seeds_vloss_vqc_sd), ("VQC-elu", seeds_vloss_elu, seeds_vloss_elu_sd),
    ("VQC-sin", seeds_vloss_sin, seeds_vloss_sin_sd), ("VQC-tanh", seeds_vloss_tanh, seeds_vloss_tanh_sd)],
    xmax=XMAX_S)
add_legend((825, 614, 904, 667.7), [621, 633.3, 646, 659.3], (829, 848), 855,
           ["VQC", "VQC-elu", "VQC-sin", "VQC-tanh"])

# ---------------- sub-captions ----------------
for text, x, y in [("(a) Iris Dataset", 230, 406), ("(b) Wine Dataset", 691, 406),
                   ("(c) Heart Decease Dataset", 224.5, 838), ("(d) Seeds Dataset", 703, 838)]:
    annotations.append(dict(xref="paper", yref="paper", x=fx(x), y=fy(y), xanchor="center",
                            yanchor="middle", showarrow=False, text=text,
                            font=dict(family=FONT, size=24, color="#111111")))

fig.update_layout(
    width=W, height=H, margin=dict(l=0, r=0, t=0, b=0), autosize=False,
    paper_bgcolor="white", plot_bgcolor="white", showlegend=False,
    shapes=shapes, annotations=annotations, **layout)

fig.write_html("out.html")
